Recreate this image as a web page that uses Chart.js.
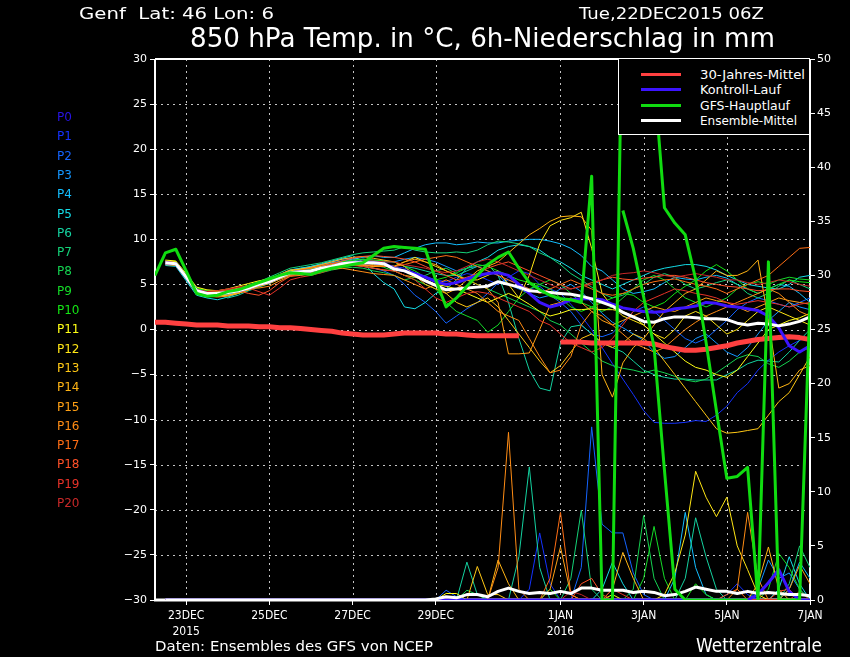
<!DOCTYPE html>
<html lang="de">
<head>
<meta charset="utf-8">
<title>Genf 850 hPa Temp. / 6h-Niederschlag</title>
<script src="https://cdn.jsdelivr.net/npm/chart.js@4.4.1/dist/chart.umd.min.js"></script>
<style>
html,body{margin:0;padding:0;background:#000;overflow:hidden;}
#wrap{position:relative;width:850px;height:657px;background:#000;font-family:"DejaVu Sans",sans-serif;color:#fff;overflow:hidden;}
#c{position:absolute;left:0;top:0;width:850px;height:657px;}
.t{position:absolute;white-space:nowrap;line-height:1;transform-origin:0 0;}
#legend{position:absolute;left:618px;top:58px;width:192px;height:77px;background:#000;border:1px solid #fff;box-sizing:border-box;}
.lg-line{position:absolute;left:22px;width:40px;height:3px;}
.lg-text{position:absolute;left:81px;font-size:13px;line-height:1;white-space:nowrap;transform-origin:0 0;}
</style>
</head>
<body>
<div id="wrap">
<canvas id="c" width="850" height="657"></canvas>
<div class="t" id="tl" style="left:79px;top:6px;font-size:16px;">Genf&nbsp; Lat: 46 Lon: 6</div>
<div class="t" id="tr" style="left:579px;top:6px;font-size:16px;">Tue,22DEC2015 06Z</div>
<div class="t" id="ttl" style="left:190px;top:25px;font-size:26px;">850 hPa Temp. in °C, 6h-Niederschlag in mm</div>
<div class="t" id="bl" style="left:155px;top:639px;font-size:14px;">Daten: Ensembles des GFS von NCEP</div>
<div class="t" id="br" style="left:696px;top:636px;font-size:19px;">Wetterzentrale</div>
<div id="plabels"></div>
<div id="legend"></div>
</div>
<script>
// ---------- time axis (hours after 22DEC2015 06Z, 6-hourly) ----------
const hours = [0,6,12,18,24,30,36,42,48,54,60,66,72,78,84,90,96,102,108,114,120,126,132,138,
  144,150,156,162,168,174,180,186,192,198,204,210,216,222,228,234,240,246,252,258,264,270,276,282,
  288,294,300,306,312,318,324,330,336,342,348,354,360,366,372,378];
const tickHours = [18,66,114,162,234,282,330,378];
const tickLabels = [["23DEC","2015"],"25DEC","27DEC","29DEC",["1JAN","2016"],"3JAN","5JAN","7JAN"];
const gridHours = [18,66,114,162,234,282,330];
const tempTicks = [-30,-25,-20,-15,-10,-5,0,5,10,15,20,25,30];
const gridTemps = [-25,-20,-15,-10,-5,0,5,10,15,20,25];
const precTicks = [0,5,10,15,20,25,30,35,40,45,50];

// ---------- labels / colours ----------
const memberNames = ["P0","P1","P2","P3","P4","P5","P6","P7","P8","P9","P10",
  "P11","P12","P13","P14","P15","P16","P17","P18","P19","P20"];
const memberColors = ["#2814e6","#1432ff","#1464ff","#1496ff","#14beff","#14dce6","#14d2a0","#14d278",
  "#14d250","#14dc28","#14e614","#ffff14","#ffe614","#ffc814","#ffb414","#ffa014","#ff8c14","#ff6e14",
  "#ff5028","#e63228","#c82828"];
const legendNames = ["30-Jahres-Mittel","Kontroll-Lauf","GFS-Hauptlauf","Ensemble-Mittel"];
const legendColors = ["#ff4040","#3c14ff","#10dc10","#ffffff"];

// ---------- 850 hPa temperature (°C) ----------
const climT = [0.8,0.8,0.7,0.6,0.5,0.5,0.5,0.4, 0.4,0.4,0.3,0.3,0.2,0.2,0.1,0.0,
  -0.1,-0.2,-0.4,-0.5,-0.6,-0.6,-0.6,-0.5, -0.4,-0.4,-0.4,-0.4,-0.5,-0.5,-0.6,-0.7,
  -0.7,-0.7,-0.7,-0.7,null,null,null,-1.4, -1.4,-1.4,-1.5,-1.5,-1.5,-1.5,-1.5,-1.5,
  -1.6,-1.9,-2.1,-2.3,-2.3,-2.2,-2.0,-1.8, -1.5,-1.3,-1.1,-1.0,-0.9,-0.8,-0.9,-1.1];
const gfsT = [6.0,8.5,8.9,6.5,4.0,3.7,3.8,4.2, 4.4,4.8,5.2,5.6,6.0,6.3,6.2,6.1,
  6.5,6.8,7.0,7.2,7.4,8.2,9.0,9.2, 9.1,9.0,8.9,5.5,2.5,3.5,4.8,6.0,
  7.2,8.0,8.6,6.8,5.2,4.4,3.8,3.4, 3.3,3.0,17.0,-30,-30,40,40,40,
  28,13.5,11.8,10.5,5.6,-1.4,-9.0,-16.5, -16.3,-15.3,-30,7.5,-30,-30,-30,3.0];
const meanT = [null,7.4,7.3,5.8,4.3,4.0,4.0,4.1, 4.3,4.6,5.0,5.3,5.8,6.3,6.4,6.5,
  6.8,7.0,7.3,7.4,7.4,7.4,7.3,6.7, 6.5,6.0,5.4,4.9,4.4,4.5,4.6,4.7,
  4.8,5.3,5.0,4.7,4.3,4.2,4.1,4.0, 3.9,3.7,3.4,3.0,2.6,1.9,1.4,0.9,
  0.8,1.2,1.4,1.4,1.3,1.2,1.2,1.1, 0.7,0.5,0.7,0.6,0.4,0.6,0.9,1.4];
const ctrlT = [null,7.4,7.3,5.8,4.3,4.0,4.0,4.1, 4.3,4.6,5.0,5.3,5.8,6.3,6.4,6.5,
  6.8,7.0,7.3,7.4,7.4,7.4,7.3,6.8, 6.5,6.2,5.8,5.3,5.0,5.2,5.6,6.0,
  6.2,6.3,6.0,5.0,4.0,3.0,2.5,2.8, 3.3,3.4,3.4,3.3,2.8,2.4,2.2,2.0,
  1.9,2.0,2.3,2.4,2.6,3.0,2.9,2.6, 2.5,2.3,2.1,1.5,0.2,-1.8,-2.5,-1.8];
const p1T = [null,7.3,7.2,5.6,4.1,3.9,4.0,4.2, 4.5,4.8,5.2,5.6,6.0,6.5,6.6,6.8,
  7.0,7.3,7.6,7.8,7.6,7.3,7.2,7.0, 6.8,6.3,5.9,5.5,5.3,5.8,6.2,6.0,
  5.5,5.0,5.8,6.5,6.2,5.0,4.5,4.0, 2.8,1.5,0.0,-2.0,-3.8,-5.5,-7.2,-9.0,
  -10.3,-10.4,-10.4,-10.3,-10.1,-10.2,-9.5,-8.5, -7.0,-6.0,-4.5,-3.4,-2.5,-1.8,-1.2,-0.8];
const p2T = [null,7.5,7.4,5.9,4.4,3.8,3.7,3.9, 4.2,4.4,4.8,5.4,5.9,6.2,6.0,6.3,
  6.5,6.9,7.0,7.2,7.0,6.8,6.5,6.0, 5.0,3.8,3.0,2.0,0.7,1.5,2.3,3.0,
  4.0,5.2,5.5,5.0,4.5,4.8,3.8,3.0, 2.0,0.5,-0.5,-0.8,-0.4,0.8,2.0,2.5,
  2.0,1.0,0.0,-1.0,-1.5,-1.0,0.0,1.0, 2.2,3.0,3.5,3.2,2.8,2.5,3.0,3.5];
const p3T = [null,7.2,7.1,5.5,4.0,4.1,4.3,4.4, 4.5,4.9,5.3,5.5,6.1,6.6,6.8,6.9,
  7.2,7.5,7.8,7.9,7.7,7.6,7.5,7.5, 7.8,8.0,7.8,7.5,7.0,6.5,6.8,7.0,
  6.5,6.0,5.0,4.5,4.0,3.5,3.8,4.5, 5.0,4.2,3.0,1.8,0.8,0.2,-0.5,-1.2,
  -2.5,-3.2,-3.0,-2.0,-1.0,-0.5,-1.5,-2.5, -3.0,-2.0,-0.5,1.0,2.0,3.0,2.5,2.2];
const p4T = [null,7.4,7.3,5.7,4.2,3.9,3.8,3.9, 4.1,4.7,5.1,5.2,5.7,6.4,6.7,7.0,
  7.2,7.4,7.6,7.8,8.0,8.2,8.0,8.0, 8.5,9.0,9.4,9.6,9.6,9.4,9.5,9.7,
  9.6,9.6,9.8,9.9,10.0,10.0,9.8,9.5, 9.0,8.2,7.0,6.5,5.5,4.5,4.0,4.2,
  4.5,5.2,5.8,5.6,5.5,5.8,6.0,5.7, 5.0,4.5,4.0,4.5,5.0,4.8,4.0,3.0];
const p5T = [null,7.1,7.0,5.4,3.8,3.5,3.3,3.6, 4.0,4.5,5.0,5.5,6.0,6.6,6.8,7.0,
  7.3,7.6,7.9,8.2,7.5,6.2,5.2,4.5, 2.5,2.3,3.0,4.0,4.5,5.5,6.8,7.5,
  8.0,8.8,9.2,9.4,9.2,8.8,8.0,7.5, 6.8,6.0,5.5,5.0,4.5,5.0,5.5,6.0,
  6.5,6.8,7.0,7.2,7.2,7.0,6.6,6.0, 5.5,5.0,4.8,4.6,4.5,5.0,5.8,6.0];
const p6T = [null,7.6,7.5,6.0,4.5,4.0,3.9,3.5, 3.8,4.3,4.7,5.1,5.6,6.0,6.3,6.6,
  6.9,7.1,7.4,7.6,7.8,7.7,7.6,7.5, 7.0,6.8,6.5,6.2,6.0,6.0,6.5,7.0,
  7.2,6.0,3.0,-1.0,-4.5,-6.5,-6.8,-1.5, 0.3,0.5,-0.5,-1.5,-2.0,-2.5,-3.5,-4.5,
  -5.0,-5.3,-5.5,-5.5,-5.6,-5.6,-5.6,-5.0, -4.5,-3.8,-3.4,-3.5,-3.6,-2.5,-1.2,0.0];
const p7T = [null,7.5,7.4,5.9,4.3,4.1,4.2,4.3, 4.5,4.8,5.3,5.8,6.3,6.8,7.0,7.2,
  7.4,7.7,8.0,8.3,8.5,8.6,8.7,8.8, 9.2,8.8,8.6,8.5,8.5,8.6,8.5,8.8,
  9.4,9.8,9.7,9.5,9.2,8.5,8.0,7.2, 6.2,5.5,4.7,4.0,3.5,3.8,4.5,5.0,
  5.8,6.2,5.8,5.0,4.5,4.8,5.2,5.5, 5.0,4.0,3.5,4.0,4.8,5.5,5.0,4.5];
const p8T = [null,7.3,7.3,6.0,4.6,4.2,4.0,4.0, 4.2,4.5,4.9,5.2,5.6,6.2,6.2,6.1,
  6.3,6.6,6.8,6.9,6.8,6.5,6.3,6.0, 5.5,5.8,6.0,6.5,6.8,6.2,5.5,5.0,
  4.5,4.0,3.5,3.0,2.5,2.0,1.0,0.5, -0.5,-1.5,-2.5,-3.5,-4.0,-4.3,-4.5,-4.8,
  -4.5,-4.8,-5.2,-5.6,-5.8,-5.5,-4.8,-4.0, -3.2,-2.8,-3.0,-3.8,-4.2,-3.5,-2.5,-2.0];
const p9T = [null,7.4,7.2,5.6,4.2,4.0,4.1,4.2, 4.4,4.6,4.9,5.2,5.7,6.3,6.5,6.6,
  6.9,7.2,7.5,7.6,7.4,7.2,6.9,6.5, 6.0,5.5,5.0,4.5,3.0,2.0,1.5,1.0,
  -0.3,0.5,2.0,3.5,4.5,5.0,5.5,5.0, 4.0,3.0,2.5,2.0,2.5,3.5,4.5,5.5,
  6.0,5.5,4.5,3.5,3.0,2.5,3.0,3.5, 4.5,5.0,5.3,5.0,5.5,5.8,5.6,5.5];
const p10T = [null,7.6,7.5,6.1,4.6,4.3,4.2,4.2, 4.4,4.7,5.1,5.4,5.9,6.4,6.5,6.7,
  7.0,7.3,7.5,7.7,7.8,7.7,7.6,7.5, 7.0,6.5,5.8,5.5,5.8,6.3,6.8,7.2,
  7.0,6.5,6.0,5.5,5.2,5.0,4.5,3.5, 2.5,2.0,2.5,3.0,3.5,4.0,3.8,3.0,
  2.5,3.0,4.0,4.8,5.5,6.5,7.2,6.5, 5.5,4.5,4.0,4.5,5.0,5.5,5.3,5.2];
const p11T = [null,7.7,7.6,6.2,4.7,4.4,4.3,4.5, 4.8,5.1,5.4,5.6,6.0,6.5,6.7,6.8,
  7.0,7.2,7.4,7.5,7.4,7.2,7.1,7.0, 6.5,6.0,5.5,5.0,4.8,4.5,4.0,3.5,
  3.0,3.5,4.0,3.5,2.8,2.0,1.5,1.8, 2.2,2.2,2.3,2.2,2.2,2.0,1.5,0.5,
  -0.5,-1.5,-2.5,-3.5,-4.2,-4.5,-5.0,-5.3, -4.5,-3.0,-1.5,0.0,0.5,1.0,1.3,1.8];
const p12T = [null,7.6,7.5,6.0,4.4,4.1,3.9,3.8, 4.0,4.4,4.9,5.3,5.8,6.2,6.4,6.6,
  6.8,7.0,7.2,7.3,7.2,7.0,7.0,7.0, 7.5,8.0,7.5,7.0,6.5,6.0,5.5,5.5,
  6.0,6.5,5.0,3.5,6.0,9.5,11.5,12.1, 12.4,13.0,9.0,4.0,2.5,1.5,1.0,0.5,
  -0.5,-1.0,0.0,1.5,2.0,1.5,0.5,-0.5, 0.0,1.0,2.0,2.5,2.0,1.5,1.0,0.5];
const p13T = [null,7.5,7.4,5.8,4.1,3.8,3.7,3.8, 4.1,4.4,4.8,5.1,5.6,6.1,6.3,6.5,
  6.8,7.1,7.2,7.2,7.0,6.8,6.6,6.5, 6.0,5.8,5.5,5.0,4.0,3.0,2.5,3.0,
  3.5,2.5,1.0,-0.5,-2.0,-3.5,-4.8,-4.0, -2.5,-1.0,-0.5,-1.5,-2.0,-1.5,-0.5,-1.0,
  -2.0,-3.5,-5.0,-6.5,-8.0,-9.5,-11.0,-11.5, -11.4,-11.2,-11.0,-9.5,-8.0,-7.0,-5.0,-3.0];
const p14T = [null,7.3,7.3,5.8,4.3,4.1,4.2,4.3, 4.6,4.9,5.2,5.5,6.1,6.6,6.7,6.9,
  7.2,7.5,7.8,8.0,8.1,7.9,7.7,7.5, 7.0,6.0,5.0,4.5,4.0,4.5,5.5,6.5,
  7.0,7.5,8.5,9.5,10.5,11.2,12.0,12.5, 12.6,12.5,11.0,-5.0,-7.5,-3.7,-2.0,-1.0,
  0.5,2.0,3.0,4.0,4.5,5.5,6.5,6.0, 6.0,6.5,7.7,1.0,-6.5,-6.0,-4.5,-4.0];
const p15T = [null,7.2,7.1,5.6,4.0,3.7,3.6,3.7, 4.0,4.4,4.8,5.2,5.6,6.0,6.1,6.3,
  6.6,6.9,7.1,7.2,7.1,7.0,7.0,7.0, 7.5,7.8,7.5,7.2,6.5,6.0,5.5,5.0,
  4.5,3.0,-2.7,-2.7,-2.6,0.0,2.7,3.0, 3.5,3.0,2.0,1.0,0.5,1.0,1.5,2.0,
  2.5,2.2,2.0,2.5,3.0,3.5,3.2,3.0, 2.5,2.0,2.5,3.0,3.5,3.2,3.0,2.8];
const p16T = [null,7.4,7.3,5.9,4.5,4.1,3.9,4.0, 4.3,4.6,4.6,4.8,5.4,5.9,6.0,6.2,
  6.5,6.7,6.8,6.6,6.4,6.2,6.1,6.0, 5.5,5.0,4.5,5.0,5.5,5.0,4.5,4.0,
  3.0,2.0,1.5,1.0,-1.0,-3.0,-4.8,-4.5, -3.0,0.5,2.0,1.5,0.5,-0.5,-1.5,-2.0,
  -2.5,-2.0,-1.0,0.0,0.8,1.5,2.0,2.5, 3.0,3.5,4.0,4.5,4.0,3.0,2.0,1.5];
const p17T = [null,7.5,7.3,5.7,4.2,4.0,4.1,4.2, 4.4,4.7,5.0,5.4,5.9,6.4,6.6,6.8,
  7.1,7.3,7.4,7.3,7.2,7.1,7.0,7.0, 7.2,7.5,7.8,8.0,8.2,8.0,7.5,7.0,
  6.5,6.0,5.5,5.0,4.5,4.0,4.5,5.0, 5.5,5.0,4.5,4.0,3.8,4.0,4.5,5.0,
  5.3,5.5,5.6,5.3,5.0,4.8,4.5,4.0, 4.5,5.0,5.5,6.0,7.0,8.0,9.0,9.1];
const p18T = [null,7.3,7.2,5.8,4.4,4.2,4.3,4.4, 4.3,4.0,3.8,4.3,5.2,5.9,6.2,6.5,
  6.9,7.3,7.6,7.9,8.1,8.2,8.1,8.0, 7.8,7.5,7.0,6.5,6.0,5.5,5.8,6.2,
  6.8,7.2,7.5,7.0,6.5,6.0,5.5,5.0, 4.5,4.8,5.2,5.5,5.8,5.6,5.5,5.7,
  5.8,6.0,6.0,5.8,5.5,5.2,5.0,4.8, 4.7,4.5,4.3,4.4,4.5,4.5,4.3,4.2];
const p19T = [null,7.4,7.3,5.9,4.3,4.0,4.0,4.4, 4.7,4.6,4.2,3.8,4.6,5.5,5.8,6.0,
  6.3,6.7,7.0,7.1,7.0,6.8,6.6,6.5, 6.0,5.5,4.5,3.5,3.0,3.5,4.0,4.2,
  4.0,3.5,3.0,2.5,2.0,1.0,0.5,-0.5, -1.5,-2.0,-2.5,-2.0,-1.0,0.5,2.0,3.0,
  3.5,4.0,4.5,4.3,4.0,3.8,3.5,3.0, 2.8,3.0,3.2,3.0,2.8,2.5,2.8,3.0];
const p20T = [null,7.6,7.4,5.8,4.4,4.2,4.3,4.5, 4.7,4.9,5.1,5.3,5.8,6.2,6.3,6.4,
  6.7,7.0,7.3,7.5,7.6,7.6,7.5,7.5, 7.2,7.0,6.8,6.5,6.3,6.5,7.0,7.5,
  7.8,7.5,7.0,6.5,6.0,5.5,5.0,4.5, 4.5,4.8,5.0,5.5,6.0,6.2,6.3,6.5,
  6.3,6.0,5.8,6.0,6.2,6.0,5.8,5.5, 5.5,5.2,5.0,5.2,5.5,5.3,5.0,4.8];

// ---------- 6h precipitation (mm) ----------
const gfsP = [null,null,null,null,null,null,null,null, null,null,null,null,null,null,null,null,
  null,null,null,null,null,null,null,null, null,null,null,null,null,null,null,null,
  null,null,null,null,null,null,null,null, null,null,null,null,null,36,32.5,28,
  23.4,12,1,0,0,0,0,0, 0,0,null,null,null,null,null,null];
const meanP = [null,0,0,0,0,0,0,0, 0,0,0,0,0,0,0,0, 0,0,0,0,0,0,0,0,
  0,0,0,0.1,0.3,0.2,0.5,0.5, 0.3,0.8,1.1,0.8,0.6,0.7,0.6,0.8,
  0.6,1.1,1.1,0.9,0.9,0.9,0.7,0.8, 0.7,0.4,0.5,0.8,1.2,1.0,0.8,0.8,
  0.6,0.8,0.6,0.7,0.6,0.5,0.5,0.4];
const ctrlP = [null,0,0,0,0,0,0,0, 0,0,0,0,0,0,0,0, 0,0,0,0,0,0,0,0, 0,0,0,0,0,0,0,0,
  0,0,0,0,0,0,0,0, 0,0,0,0,0,0,0,0, 0,0,0,0,0,0,0,0, 0,0,0.5,1.6,2.8,0.8,0,0];
const p1P = [null,0,0,0,0,0,0,0, 0,0,0,0,0,0,0,0, 0,0,0,0,0,0,0,0, 0,0,0,0,0,0,0,0,
  0,0,0,0,1.0,6.2,1.5,0, 0,0,0,0,0,0,0,0, 0,0,0,0,0,0,0,0.5, 1.5,0.5,0,0,0,0,0,0];
const p2P = [null,0,0,0,0,0,0,0, 0,0,0,0,0,0,0,0, 0,0,0,0,0,0,0,0, 0,0,0,0,0.9,0.3,0,0,
  0,0,0,0,0,0,0,0, 0,3.0,16.0,7.0,6.2,6.2,2.5,0.5, 0,0,0,0,0,0,0,0, 0,0,0,0,0,0,0,0];
const p3P = [null,0,0,0,0,0,0,0, 0,0,0,0,0,0,0,0, 0,0,0,0,0,0,0,0, 0,0,0,0,0,0,0,0,
  0,0,0,0,0,0,0,0, 0,0,0,0,0,0,0,0, 0,0,0,0,0,0,0,0, 0,0,1.0,3.7,2.0,2.5,1.0,0];
const p4P = [null,0,0,0,0,0,0,0, 0,0,0,0,0,0,0,0, 0,0,0,0,0,0,0,0, 0,0,0,0,0,0,0,0,
  0,0,0,0,0,0,0,0, 0,0,0,0,0,0,0,0, 0,0,2.0,8.1,3.0,0.5,0,0, 0,0,0,0,0,1.0,3.5,2.0];
const p5P = [null,0,0,0,0,0,0,0, 0,0,0,0,0,0,0,0, 0,0,0,0,0,0,0,0, 0,0,0,0,0,0,0,0,
  0,0,0,0,0,0,0,0, 0,0,0,1.0,3.5,1.5,0,0, 0,0,0,0,0,0,0,0, 0,0,0,0,1.0,4.0,1.5,0];
const p6P = [null,0,0,0,0,0,0,0, 0,0,0,0,0,0,0,0, 0,0,0,0,0,0,0,0, 0,0,0,0,0,0,3.5,0.5,
  0,0,0,4.0,12.3,3.0,0,0, 0,0,0,0,0,0,0,0, 0,0,0,2.0,7.6,4.0,1.0,0, 0,0,0,0,0,0,0,0];
const p7P = [null,0,0,0,0,0,0,0, 0,0,0,0,0,0,0,0, 0,0,0,0,0,0,0,0, 0,0,0,0,0,0,0,0,
  0,0,0,0,0,0,0,0, 2.0,8.3,1.0,0,0,0,0,0, 0,0,0,0,0,0,0,0, 0,0,0,0,0,1.5,5.0,3.0];
const p8P = [null,0,0,0,0,0,0,0, 0,0,0,0,0,0,0,0, 0,0,0,0,0,0,0,0, 0,0,0,0,0,0,0.9,0.5,
  0,0,0,0,0,0,0,0, 0,0,0,0,0,0,1.0,7.8, 2.0,0,0,0,0,0,0,0, 0,0,0,0,0,0,0,0];
const p9P = [null,0,0,0,0,0,0,0, 0,0,0,0,0,0,0,0, 0,0,0,0,0,0,0,0, 0,0,0,0,0,0,0,0,
  0,0,0,0,0,0,0,0, 0,0,0,0,0,0,0,2.0, 6.8,2.0,0,0,0,0,0,0, 0,0,0,1.0,4.3,3.0,1.0,0];
const p10P = [null,0,0,0,0,0,0,0, 0,0,0,0,0,0,0,0, 0,0,0,0,0,0,0,0, 0,0,0,0,0,0,0,0,
  0,0,0,0,0,0,1.0,0, 0,0,0,0,0,0,0,0, 0,0,0,0,1.5,0.5,0,0, 0,0,0,0,0,0,0,0];
const p11P = [null,0,0,0,0,0,0,0, 0,0,0,0,0,0,0,0, 0,0,0,0,0,0,0,0, 0,0,0,0,0.6,0.6,0,0,
  0,0,0,0,0,0,0,0, 0,0,0,0,0.5,0,0,0, 0,0,0,0,0,0,0,0, 0,0,0,0,0,0,0,0];
const p12P = [null,0,0,0,0,0,0,0, 0,0,0,0,0,0,0,0, 0,0,0,0,0,0,0,0, 0,0,0,0,0,0,0,0,
  0,0,0,0,0,0,0,0, 0,0,0,0,0,0,0,0, 0,0.5,2.5,6.0,11.9,9.5,7.7,9.5, 5.0,2.8,0.5,0,0,0,0,0];
const p13P = [null,0,0,0,0,0,0,0, 0,0,0,0,0,0,0,0, 0,0,0,0,0,0,0,0, 0,0,0,0,0,0,0,3.1,
  0.5,0.5,0,0,0,0,0,0, 0,0,0,0,0,0,0,0, 0,0,0,0,0,0,0,0, 0,0,0,0,0,0,0,0];
const p14P = [null,0,0,0,0,0,0,0, 0,0,0,0,0,0,0,0, 0,0,0,0,0,0,0,0, 0,0,0,0,0,0,0,0,
  0,3.7,1.5,0,0,0,0,0, 0,0,0,0,1.0,4.4,2.0,0, 0,0,0,0,0,0,0,0, 0,0,1.5,4.9,1.0,0,0,0];
const p15P = [null,0,0,0,0,0,0,0, 0,0,0,0,0,0,0,0, 0,0,0,0,0,0,0,0, 0,0,0,0,0,0,0,0,
  0,0,0,0,0,0,1.0,4.9, 0.5,0,0,0,0,0,0,0, 0,0,0,0,0,0,0,0, 0,0,0,0,0,1.0,3.2,1.5];
const p16P = [null,0,0,0,0,0,0,0, 0,0,0,0,0,0,0,0, 0,0,0,0,0,0,0,0, 0,0,0,0,0,0,0,0,
  0,3.0,15.5,1.0,0,0,0,0, 0,0,0,0,0,0,0,0, 0,0,0,0,0,0,0,0, 1.0,8.1,2.0,0,0,0,0,0];
const p17P = [null,0,0,0,0,0,0,0, 0,0,0,0,0,0,0,0, 0,0,0,0,0,0,0,0, 0,0,0,0,0,0,0,0,
  0,0,0,0,0,0,2.0,8.1, 0.5,0,0,0,0,0,0,0, 0,0,0,0,0,0,0,0.5, 1.0,0,0,0,0,0,0,0];
const p18P = [null,0,0,0,0,0,0,0, 0,0,0,0,0,0,0,0, 0,0,0,0,0,0,0,0, 0,0,0,0,0,0,0,0,
  0,0,0,0,0,0,0,0, 0,1.5,2.0,0.5,0,0,0,0, 0,0,0,0,0,0,0,0, 0,0,0,0,0.8,1.0,0,0];
const p19P = [null,0,0,0,0,0,0,0, 0,0,0,0,0,0,0,0, 0,0,0,0,0,0,0,0, 0,0,0,0,0,0,0,0,
  0,0,0,0,0,0,0,0, 0,0,0,0,1.0,0.5,0,0, 0,0,0,0,0,0,0,0, 0,0,0,0,0,0,0.8,0];
const p20P = [null,0,0,0,0,0,0,0, 0,0,0,0,0,0,0,0, 0,0,0,0,0,0,0,0, 0,0,0,0,0,0,0,0,
  0,0,0,0,0,0,0,0, 0.8,0.5,0,0,0,0,0,0, 0,0,0,0,0,0,0,0, 0,0,0,0,0,0,0,0];

const memberT = [p1T,p2T,p3T,p4T,p5T,p6T,p7T,p8T,p9T,p10T,p11T,p12T,p13T,p14T,p15T,p16T,p17T,p18T,p19T,p20T];
const memberP = [p1P,p2P,p3P,p4P,p5P,p6P,p7P,p8P,p9P,p10P,p11P,p12P,p13P,p14P,p15P,p16P,p17P,p18P,p19P,p20P];

// ---------- datasets ----------
const thick = (label, data, axis, color, width, order) => ({
  label, data, yAxisID: axis, borderColor: color, backgroundColor: color,
  borderWidth: width, order, pointRadius: 0, fill: false, tension: 0,
  borderJoinStyle: 'round', spanGaps: false
});
const datasets = [];
datasets.push(thick('GFS-Hauptlauf T', gfsT, 'y', legendColors[2], 3, 0));
datasets.push(thick('GFS-Hauptlauf RR', gfsP, 'yp', legendColors[2], 3, 0));
datasets.push(thick('Ensemble-Mittel T', meanT, 'y', legendColors[3], 3, 1));
datasets.push(thick('Ensemble-Mittel RR', meanP, 'yp', legendColors[3], 3, 1));
datasets.push(thick('Kontroll-Lauf T', ctrlT, 'y', legendColors[1], 3, 2));
datasets.push(thick('Kontroll-Lauf RR', ctrlP, 'yp', legendColors[1], 3, 2));
datasets.push(thick('30-Jahres-Mittel', climT, 'y', legendColors[0], 5, 3));
memberT.forEach((d, k) => {
  datasets.push(thick(memberNames[k+1] + ' T', d, 'y', memberColors[k+1], 1, 30 - k));
  datasets.push(thick(memberNames[k+1] + ' RR', memberP[k], 'yp', memberColors[k+1], 1, 30 - k));
});

const FONT = '"DejaVu Sans", sans-serif';
const XFONT = '"DejaVu Sans Condensed", "Liberation Sans Narrow", "DejaVu Sans", sans-serif';
const fmtNum = v => (v < 0 ? '\u2212' + (-v) : String(v));

const framePlugin = {
  id: 'wzFrame',
  beforeDatasetsDraw(chart) {
    const {ctx, chartArea: a, scales} = chart;
    const xs = scales.x, ys = scales.y;
    ctx.save();
    ctx.strokeStyle = '#c4c4c4';
    ctx.lineWidth = 1;
    ctx.setLineDash([2, 4]);
    gridTemps.forEach(v => {
      const py = Math.round(ys.getPixelForValue(v)) + 0.5;
      ctx.beginPath(); ctx.moveTo(a.left, py); ctx.lineTo(a.right, py); ctx.stroke();
    });
    gridHours.forEach(h => {
      const px = Math.round(xs.getPixelForValue(h)) + 0.5;
      ctx.beginPath(); ctx.moveTo(px, a.top); ctx.lineTo(px, a.bottom); ctx.stroke();
    });
    ctx.setLineDash([]);
    ctx.strokeStyle = '#ffffff';
    ctx.lineWidth = 2;
    ctx.beginPath();
    ctx.moveTo(a.left, a.top); ctx.lineTo(a.right, a.top);
    ctx.moveTo(a.left, a.top); ctx.lineTo(a.left, a.bottom);
    ctx.moveTo(a.right, a.top); ctx.lineTo(a.right, a.bottom);
    ctx.stroke();
    ctx.lineWidth = 3;
    ctx.beginPath(); ctx.moveTo(a.left - 1, a.bottom); ctx.lineTo(a.right + 1, a.bottom); ctx.stroke();
    ctx.restore();
  }
};

const tickGrid = {display: true, drawOnChartArea: false, drawTicks: true, tickLength: 5, tickColor: '#ffffff', tickWidth: 1};

new Chart(document.getElementById('c'), {
  type: 'line',
  data: {labels: hours, datasets},
  options: {
    responsive: false, animation: false, devicePixelRatio: 1, events: [],
    layout: {padding: {top: 59, left: 0, right: 0, bottom: 0}},
    plugins: {legend: {display: false}, tooltip: {enabled: false}, title: {display: false}},
    elements: {point: {radius: 0}, line: {tension: 0}},
    scales: {
      x: {
        type: 'linear', min: 0, max: 378,
        afterBuildTicks: s => { s.ticks = tickHours.map(v => ({value: v})); },
        afterFit: s => { s.height = 57; },
        grid: tickGrid, border: {display: false},
        ticks: {color: '#ffffff', font: {family: XFONT, size: 12, lineHeight: 1.3}, padding: 3,
                maxRotation: 0, minRotation: 0, autoSkip: false,
                callback: v => tickLabels[tickHours.indexOf(v)]}
      },
      y: {
        type: 'linear', position: 'left', min: -30, max: 30,
        afterBuildTicks: s => { s.ticks = tempTicks.map(v => ({value: v})); },
        afterFit: s => { s.width = 155; },
        grid: tickGrid, border: {display: false},
        ticks: {color: '#ffffff', font: {family: FONT, size: 11}, padding: 3, autoSkip: false, callback: v => fmtNum(v)}
      },
      yp: {
        type: 'linear', position: 'right', min: 0, max: 50,
        afterBuildTicks: s => { s.ticks = precTicks.map(v => ({value: v})); },
        afterFit: s => { s.width = 40; },
        grid: tickGrid, border: {display: false},
        ticks: {color: '#ffffff', font: {family: FONT, size: 11}, padding: 2, autoSkip: false, callback: v => String(v)}
      }
    }
  },
  plugins: [framePlugin]
});

// ---------- member labels at the left ----------
const pl = document.getElementById('plabels');
memberNames.forEach((n, k) => {
  const d = document.createElement('div');
  d.className = 't';
  d.textContent = n;
  d.style.left = '57px';
  d.style.top = (111 + 19.3 * k) + 'px';
  d.style.fontSize = '12px';
  d.style.color = memberColors[k];
  pl.appendChild(d);
});

// ---------- legend box ----------
const lg = document.getElementById('legend');
const legendWidths = [105, 81, 90, 97];
legendNames.forEach((n, k) => {
  const cy = 15 + 15.5 * k;
  const ln = document.createElement('div');
  ln.className = 'lg-line';
  ln.style.top = (cy - 1.5) + 'px';
  ln.style.background = legendColors[k];
  lg.appendChild(ln);
  const tx = document.createElement('div');
  tx.className = 'lg-text';
  tx.textContent = n;
  tx.style.top = (cy - 6.5) + 'px';
  lg.appendChild(tx);
  const w = tx.getBoundingClientRect().width;
  if (w > 0) tx.style.transform = 'scaleX(' + (legendWidths[k] / w) + ')';
});

// ---------- fit header/footer text widths ----------
[['tl', 195], ['tr', 185], ['ttl', 585], ['bl', 278], ['br', 126]].forEach(([id, w]) => {
  const el = document.getElementById(id);
  const nat = el.getBoundingClientRect().width;
  if (nat > 0) el.style.transform = 'scaleX(' + (w / nat) + ')';
});
</script>
</body>
</html>
